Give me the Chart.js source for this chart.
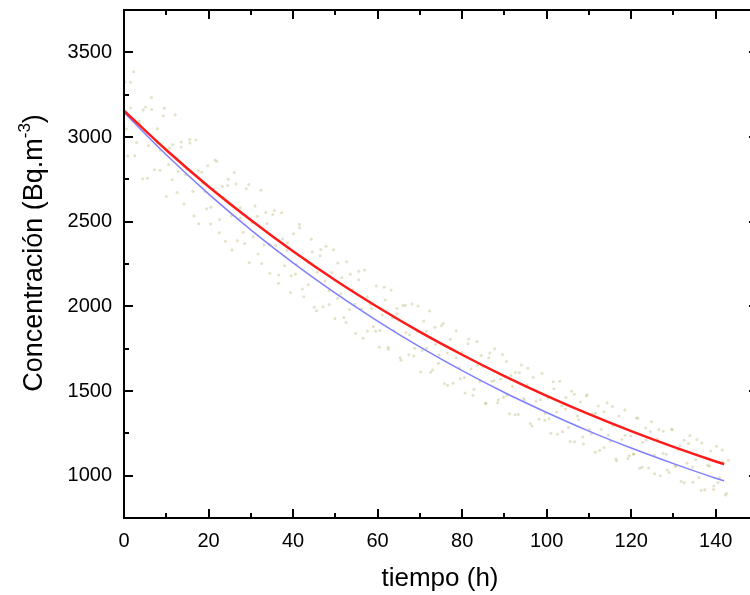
<!DOCTYPE html>
<html>
<head>
<meta charset="utf-8">
<title>Concentración vs tiempo</title>
<script src="https://cdn.jsdelivr.net/npm/chart.js@4/dist/chart.umd.min.js"></script>
<style>
  html, body { margin: 0; padding: 0; background: #fff; overflow: hidden; }
</style>
</head>
<body>
<canvas id="decayChart" width="770" height="595"></canvas>
<script>
// curve sample times (h) and the two fitted curves (Bq.m-3)
const fitTime = [0, 10, 20, 30, 40, 50, 60, 70, 80, 90, 100, 110, 120, 130, 140, 142];
const redFit  = [3155, 2923, 2708, 2510, 2325, 2154, 1996, 1849, 1714, 1588, 1471, 1363, 1263, 1170, 1084, 1068];
const blueFit = [3145, 2895, 2664, 2452, 2257, 2078, 1913, 1760, 1620, 1491, 1373, 1263, 1163, 1071, 985, 970];

// faint measured points, first detector (read off approximately)
const dotTime = [0.2, 0.9, 1.6, 2.3, 3.0, 3.7, 4.4, 5.1, 5.8, 6.5, 7.2, 7.9, 8.6, 9.3, 10.0, 10.7, 11.4, 12.1, 12.8, 13.5,
  14.2, 14.9, 15.6, 16.3, 17.0, 17.7, 18.4, 19.1, 19.8, 20.5, 21.2, 21.9, 22.6, 23.3, 24.0, 24.7, 25.4, 26.1, 26.8, 27.5,
  28.2, 28.9, 29.6, 30.3, 31.0, 31.7, 32.4, 33.1, 33.8, 34.5, 35.2, 35.9, 36.6, 37.3, 38.0, 38.7, 39.4, 40.1, 40.8, 41.5,
  42.2, 42.9, 43.6, 44.3, 45.0, 45.7, 46.4, 47.1, 47.8, 48.5, 49.2, 49.9, 50.6, 51.3, 52.0, 52.7, 53.4, 54.1, 54.8, 55.5,
  56.2, 56.9, 57.6, 58.3, 59.0, 59.7, 60.4, 61.1, 61.8, 62.5, 63.2, 63.9, 64.6, 65.3, 66.0, 66.7, 67.4, 68.1, 68.8, 69.5,
  70.2, 70.9, 71.6, 72.3, 73.0, 73.7, 74.4, 75.1, 75.8, 76.5, 77.2, 77.9, 78.6, 79.3, 80.0, 80.7, 81.4, 82.1, 82.8, 83.5,
  84.2, 84.9, 85.6, 86.3, 87.0, 87.7, 88.4, 89.1, 89.8, 90.5, 91.2, 91.9, 92.6, 93.3, 94.0, 94.7, 95.4, 96.1, 96.8, 97.5,
  98.2, 98.9, 99.6, 100.3, 101.0, 101.7, 102.4, 103.1, 103.8, 104.5, 105.2, 105.9, 106.6, 107.3, 108.0, 108.7, 109.4, 110.1, 110.8, 111.5,
  112.2, 112.9, 113.6, 114.3, 115.0, 115.7, 116.4, 117.1, 117.8, 118.5, 119.2, 119.9, 120.6, 121.3, 122.0, 122.7, 123.4, 124.1, 124.8, 125.5,
  126.2, 126.9, 127.6, 128.3, 129.0, 129.7, 130.4, 131.1, 131.8, 132.5, 133.2, 133.9, 134.6, 135.3, 136.0, 136.7, 137.4, 138.1, 138.8, 139.5,
  140.2, 140.9, 141.6, 142.3, 143.0];
const dotConc = [3325, 2888, 3171, 3385, 2968, 3081, 2754, 3177, 2950, 3233, 2806, 3049, 2922, 3126, 2649, 2933, 2748, 3132, 2796, 2941,
  2605, 2810, 2964, 2678, 2983, 2487, 2792, 2676, 2830, 2486, 2691, 2857, 2513, 2708, 2384, 2750, 2535, 2791, 2387, 2582,
  2438, 2694, 2259, 2495, 2592, 2309, 2685, 2362, 2489, 2195, 2542, 2359, 2185, 2552, 2239, 2376, 2082, 2429, 2247, 2485,
  2102, 2280, 2128, 2396, 1994, 2201, 2299, 1997, 2355, 2092, 2200, 1928, 2256, 2075, 1934, 2263, 1981, 2100, 1839, 2157,
  1986, 2215, 1854, 2012, 1881, 2120, 1759, 1949, 2038, 1758, 2097, 1857, 1956, 1696, 2005, 1845, 1714, 2014, 1753, 1853,
  1612, 1913, 1753, 1973, 1624, 1774, 1664, 1885, 1545, 1725, 1806, 1546, 1856, 1637, 1727, 1488, 1779, 1630, 1511, 1793,
  1554, 1645, 1426, 1697, 1558, 1749, 1430, 1571, 1463, 1674, 1366, 1528, 1609, 1361, 1653, 1445, 1536, 1308, 1580, 1441,
  1333, 1605, 1367, 1459, 1251, 1513, 1376, 1558, 1260, 1393, 1285, 1498, 1200, 1353, 1435, 1187, 1470, 1272, 1365, 1138,
  1411, 1274, 1167, 1430, 1203, 1296, 1099, 1352, 1215, 1388, 1101, 1234, 1127, 1341, 1044, 1198, 1281, 1045, 1318, 1122,
  1215, 999, 1262, 1126, 1019, 1273, 1057, 1151, 965, 1209, 1073, 1237, 961, 1095, 989, 1193, 917, 1061, 1145, 919,
  1173, 988, 1082, 886, 1090];

// faint measured points, second detector
const dot2Time = [0.55, 1.55, 2.55, 3.55, 4.55, 5.55, 6.55, 7.55, 8.55, 9.55, 10.55, 11.55, 12.55, 13.55, 14.55, 15.55, 16.55, 17.55, 18.55, 19.55,
  20.55, 21.55, 22.55, 23.55, 24.55, 25.55, 26.55, 27.55, 28.55, 29.55, 30.55, 31.55, 32.55, 33.55, 34.55, 35.55, 36.55, 37.55, 38.55, 39.55,
  40.55, 41.55, 42.55, 43.55, 44.55, 45.55, 46.55, 47.55, 48.55, 49.55, 50.55, 51.55, 52.55, 53.55, 54.55, 55.55, 56.55, 57.55, 58.55, 59.55,
  60.55, 61.55, 62.55, 63.55, 64.55, 65.55, 66.55, 67.55, 68.55, 69.55, 70.55, 71.55, 72.55, 73.55, 74.55, 75.55, 76.55, 77.55, 78.55, 79.55,
  80.55, 81.55, 82.55, 83.55, 84.55, 85.55, 86.55, 87.55, 88.55, 89.55, 90.55, 91.55, 92.55, 93.55, 94.55, 95.55, 96.55, 97.55, 98.55, 99.55,
  100.55, 101.55, 102.55, 103.55, 104.55, 105.55, 106.55, 107.55, 108.55, 109.55, 110.55, 111.55, 112.55, 113.55, 114.55, 115.55, 116.55, 117.55, 118.55, 119.55,
  120.55, 121.55, 122.55, 123.55, 124.55, 125.55, 126.55, 127.55, 128.55, 129.55, 130.55, 131.55, 132.55, 133.55, 134.55, 135.55, 136.55, 137.55, 138.55, 139.55,
  140.55, 141.55, 142.55];
const dot2Conc = [3047, 3323, 2889, 3094, 3160, 2756, 3162, 2958, 2804, 3170, 2837, 2954, 2672, 2970, 2777, 2985, 2533, 2801, 2728, 2576,
  2585, 2864, 2434, 2643, 2713, 2332, 2722, 2521, 2371, 2720, 2411, 2532, 2253, 2554, 2365, 2566, 2137, 2398, 2329, 2180,
  2191, 2464, 2056, 2259, 2321, 1974, 2336, 2149, 2011, 2334, 2047, 2171, 1905, 2189, 2013, 2207, 1811, 2055, 1989, 1853,
  1857, 2112, 1747, 1932, 1987, 1682, 2007, 1832, 1707, 2002, 1737, 1853, 1610, 1876, 1712, 1898, 1534, 1750, 1697, 1573,
  1580, 1807, 1475, 1652, 1709, 1427, 1724, 1561, 1449, 1716, 1474, 1592, 1360, 1608, 1456, 1635, 1293, 1501, 1449, 1327,
  1336, 1555, 1244, 1413, 1462, 1202, 1481, 1330, 1229, 1478, 1248, 1368, 1148, 1378, 1238, 1408, 1088, 1288, 1238, 1118,
  1128, 1339, 1050, 1210, 1261, 1012, 1272, 1133, 1034, 1274, 1055, 1177, 958, 1190, 1051, 1213, 914, 1106, 1057, 939,
  960, 1152, 894];

const xMin = 0, xMax = 150, yMin = 750, yMax = 3750;
const FONT = "'Liberation Sans', Arial, sans-serif";

function pts(xs, ys) {
  return xs.map((x, i) => ({ x: x, y: ys[i] }));
}

// frame, inward ticks and axis titles
const framePlugin = {
  id: "frame",
  afterDraw(chart) {
    const ctx = chart.ctx;
    const a = chart.chartArea;
    const xs = chart.scales.x, ys = chart.scales.y;
    ctx.save();
    ctx.strokeStyle = "#000";
    ctx.lineWidth = 2;
    ctx.strokeRect(a.left, a.top, a.right - a.left, a.bottom - a.top);

    ctx.beginPath();
    xs.ticks.forEach(t => {
      if (t.value % 10 !== 0 || t.value === xMin || t.value === xMax) return;
      const len = t.value % 20 === 0 ? 9 : 5;
      const px = Math.round(xs.getPixelForValue(t.value));
      ctx.moveTo(px, a.bottom); ctx.lineTo(px, a.bottom - len);
      ctx.moveTo(px, a.top); ctx.lineTo(px, a.top + len);
    });
    ys.ticks.forEach(t => {
      if (t.value % 250 !== 0 || t.value === yMin || t.value === yMax) return;
      const len = t.value % 500 === 0 ? 9 : 5;
      const py = Math.round(ys.getPixelForValue(t.value));
      ctx.moveTo(a.left, py); ctx.lineTo(a.left + len, py);
      ctx.moveTo(a.right, py); ctx.lineTo(a.right - len, py);
    });
    ctx.stroke();

    ctx.fillStyle = "#000";
    ctx.font = "26px " + FONT;
    ctx.textAlign = "center";
    ctx.textBaseline = "alphabetic";
    ctx.fillText("tiempo (h)", 440, 586);

    // y title with superscript
    ctx.translate(42, 253);
    ctx.rotate(-Math.PI / 2);
    const main = "Concentración (Bq.m";
    ctx.font = "27px " + FONT;
    const w1 = ctx.measureText(main).width;
    ctx.font = "17px " + FONT;
    const w2 = ctx.measureText("-3").width;
    ctx.font = "27px " + FONT;
    const w3 = ctx.measureText(")").width;
    const x0 = -(w1 + w2 + w3) / 2;
    ctx.textAlign = "left";
    ctx.fillText(main, x0, 0);
    ctx.font = "17px " + FONT;
    ctx.fillText("-3", x0 + w1, -12);
    ctx.font = "27px " + FONT;
    ctx.fillText(")", x0 + w1 + w2, 0);
    ctx.restore();
  }
};

new Chart(document.getElementById("decayChart"), {
  type: "scatter",
  data: {
    datasets: [
      {
        label: "ajuste 1",
        data: pts(fitTime, redFit),
        showLine: true,
        borderColor: "#ff1a1a",
        borderWidth: 2.5,
        pointRadius: 0,
        cubicInterpolationMode: "monotone"
      },
      {
        label: "ajuste 2",
        data: pts(fitTime, blueFit),
        showLine: true,
        borderColor: "#7f7fff",
        borderWidth: 1.5,
        pointRadius: 0,
        cubicInterpolationMode: "monotone"
      },
      {
        label: "medidas 1",
        data: pts(dotTime, dotConc),
        pointRadius: 1.5,
        pointBackgroundColor: "rgba(195,180,120,0.42)",
        pointBorderWidth: 0
      },
      {
        label: "medidas 2",
        data: pts(dot2Time, dot2Conc),
        pointRadius: 1.5,
        pointBackgroundColor: "rgba(175,190,125,0.42)",
        pointBorderWidth: 0
      }
    ]
  },
  options: {
    responsive: false,
    animation: false,
    layout: { padding: { top: 10, right: 12, left: 0, bottom: 0 } },
    plugins: {
      legend: { display: false },
      tooltip: { enabled: false }
    },
    scales: {
      x: {
        type: "linear",
        min: xMin,
        max: xMax,
        grid: { display: false, drawTicks: false },
        border: { display: false },
        ticks: {
          stepSize: 10,
          autoSkip: false,
          maxRotation: 0,
          padding: 11,
          color: "#000",
          font: { family: FONT, size: 20 },
          callback: v => (v % 20 === 0 && v !== xMax ? v : "")
        },
        afterFit: s => { s.height = 77; s.paddingLeft = 0; s.paddingRight = 0; }
      },
      y: {
        min: yMin,
        max: yMax,
        grid: { display: false, drawTicks: false },
        border: { display: false },
        ticks: {
          stepSize: 250,
          autoSkip: false,
          padding: 12,
          color: "#000",
          font: { family: FONT, size: 20 },
          callback: v => (v % 500 === 0 && v !== yMin ? v : "")
        },
        afterFit: s => { s.width = 124; s.paddingTop = 0; s.paddingBottom = 0; }
      }
    }
  },
  plugins: [framePlugin]
});
</script>
</body>
</html>
